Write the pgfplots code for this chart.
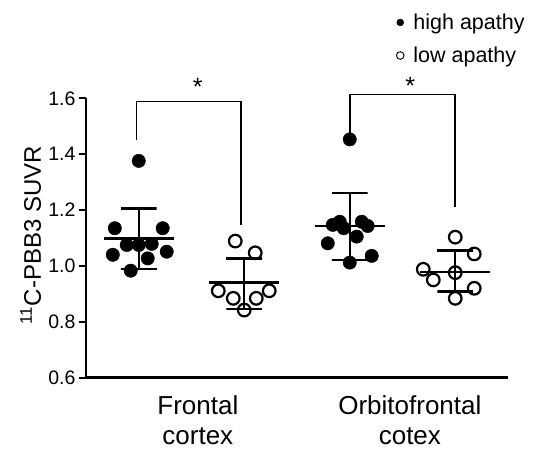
\documentclass[border=0pt]{standalone}
\usepackage{fontspec}
\setmainfont{Liberation Sans}
\usepackage{pgfplots}
\pgfplotsset{compat=1.18}
\pgfplotsset{
  meanline/.style={black, line width=2.6bp, forget plot, line cap=butt},
  sdline/.style={black, line width=2.4bp, forget plot, line cap=butt},
  bracket/.style={black, line width=1.6bp, forget plot},
}
\begin{document}
\begin{tikzpicture}
\useasboundingbox (-86bp,-71.3bp) rectangle (448bp,377.7bp);
\begin{axis}[
  at={(0,0)}, anchor=south west,
  scale only axis, width=422bp, height=279.4bp,
  xmin=0.5, xmax=4.5, ymin=0.6, ymax=1.6,
  clip=false,
  axis x line*=bottom, axis y line*=left,
  axis line style={line width=2.6bp, -},
  ytick={0.6,0.8,1.0,1.2,1.4,1.6},
  yticklabel style={font=\fontsize{19.5bp}{22bp}\selectfont, /pgf/number format/.cd, fixed, fixed zerofill, precision=1, assume math mode=true},
  ytick style={line width=2bp, black},
  major tick length=7bp,
  tick align=outside,
  ytick pos=left,
  xtick={1.56,3.57},
  xticklabels={{Frontal\\cortex},{Orbitofrontal\\cotex}},
  xticklabel style={align=center, inner sep=0pt, font=\fontsize{26bp}{30bp}\selectfont, yshift=-11bp},
  xtick style={draw=none},
  ylabel={\textsuperscript{11}C-PBB3 SUVR},
  every axis y label/.style={at={(axis description cs:-0.131,0.51)}, rotate=90, anchor=center, font=\fontsize{24bp}{28bp}\selectfont},
  legend style={at={(axis description cs:0.727,1.317)}, anchor=north west, draw=none, fill=none,
    font=\fontsize{21.5bp}{25bp}\selectfont, row sep=12bp, cells={anchor=west}},
]
% high apathy (filled)
\addplot[only marks, mark=*, mark size=6.7bp, black,
  legend image code/.code={\fill[black] (0bp,0bp) circle[radius=3.5bp]; \path (-4bp,0bp) (11bp,0bp);}]
coordinates {
 (1.000,1.376) (0.773,1.135) (1.227,1.135) (0.886,1.075) (1.000,1.075)
 (1.123,1.079) (0.754,1.040) (1.265,1.051) (1.085,1.027) (0.924,0.983)
 (3.000,1.453) (2.839,1.147) (2.905,1.158) (2.943,1.135) (3.114,1.158)
 (3.170,1.143) (3.066,1.105) (2.792,1.081) (3.208,1.036) (3.000,1.012)
};
\addlegendentry{high apathy}
% low apathy (open)
\addplot[only marks, mark=o, mark size=6.3bp, black, mark options={line width=2.2bp, fill=none},
  legend image code/.code={\draw[black, line width=0.9bp] (0bp,0bp) circle[radius=3.8bp]; \path (-4bp,0bp) (11bp,0bp);}]
coordinates {
 (1.915,1.089) (2.104,1.047) (1.754,0.911) (1.896,0.884) (2.114,0.884)
 (2.237,0.911) (2.000,0.842)
 (4.000,1.103) (4.180,1.043) (3.697,0.988) (4.000,0.976) (3.792,0.950)
 (4.180,0.920) (4.000,0.884)
};
\addlegendentry{low apathy}
% means
\addplot[meanline] coordinates {(0.668,1.099) (1.332,1.099)};
\addplot[meanline] coordinates {(1.668,0.940) (2.332,0.940)};
\addplot[meanline] coordinates {(2.668,1.143) (3.332,1.143)};
\addplot[meanline] coordinates {(3.668,0.979) (4.332,0.979)};
% SD
\addplot[sdline] coordinates {(0.83,1.206) (1.17,1.206) (1,1.206) (1,0.989) (0.83,0.989) (1.17,0.989)};
\addplot[sdline] coordinates {(1.83,1.027) (2.17,1.027) (2,1.027) (2,0.845) (1.83,0.845) (2.17,0.845)};
\addplot[sdline] coordinates {(2.83,1.262) (3.17,1.262) (3,1.262) (3,1.021) (2.83,1.021) (3.17,1.021)};
\addplot[sdline] coordinates {(3.83,1.055) (4.17,1.055) (4,1.055) (4,0.908) (3.83,0.908) (4.17,0.908)};
% significance brackets
\addplot[bracket] coordinates {(0.98,1.451) (0.98,1.588) (1.97,1.588) (1.97,1.147)};
\addplot[bracket] coordinates {(3.00,1.475) (3.00,1.614) (4.00,1.614) (4.00,1.212)};
\node[anchor=base, inner sep=0pt, font=\fontsize{25bp}{28bp}\selectfont] at (axis cs:1.558,1.610) {*};
\node[anchor=base, inner sep=0pt, font=\fontsize{25bp}{28bp}\selectfont] at (axis cs:3.574,1.614) {*};
\end{axis}
\end{tikzpicture}
\end{document}
